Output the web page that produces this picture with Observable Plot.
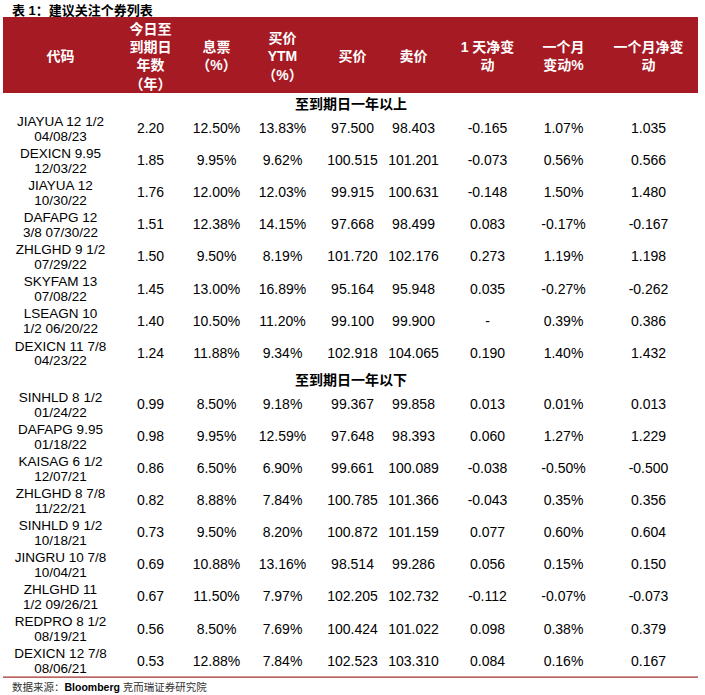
<!DOCTYPE html>
<html>
<head>
<meta charset="utf-8">
<script src="https://cdn.jsdelivr.net/npm/d3@7"></script>
<script src="https://cdn.jsdelivr.net/npm/@observablehq/plot@0.6"></script>
<style>
  html, body { margin: 0; padding: 0; background: #fff; }
  body { width: 705px; height: 695px; overflow: hidden; }
  #title { height: 17px; line-height: 17px; padding-left: 12px; font: bold 13px "Liberation Sans", "Noto Sans CJK SC", sans-serif; color: #000; white-space: nowrap; }
  #caption { height: 14px; line-height: 14px; padding-left: 12px; font: 10.5px "Liberation Sans", "Noto Sans CJK SC", sans-serif; color: #333; white-space: nowrap; }
  #caption b { color: #000; }
</style>
</head>
<body>
<div id="title">表 1：建议关注个券列表</div>
<div id="chart"></div>
<div id="caption">数据来源：<b>Bloomberg</b> 克而瑞证券研究院</div>
<script>
// ---- data ----
const headerLabels = ["代码", "今日至\n到期日\n年数\n（年）", "息票\n（%）", "买价\nYTM\n（%）", "买价", "卖价", "1 天净变\n动", "一个月\n变动%", "一个月净变\n动"];
const sectionLabels = ["至到期日一年以上", "至到期日一年以下"];
const codes = ["JIAYUA 12 1/2\n04/08/23", "DEXICN 9.95\n12/03/22", "JIAYUA 12\n10/30/22", "DAFAPG 12\n3/8 07/30/22", "ZHLGHD 9 1/2\n07/29/22", "SKYFAM 13\n07/08/22", "LSEAGN 10\n1/2 06/20/22", "DEXICN 11 7/8\n04/23/22", "SINHLD 8 1/2\n01/24/22", "DAFAPG 9.95\n01/18/22", "KAISAG 6 1/2\n12/07/21", "ZHLGHD 8 7/8\n11/22/21", "SINHLD 9 1/2\n10/18/21", "JINGRU 10 7/8\n10/04/21", "ZHLGHD 11\n1/2 09/26/21", "REDPRO 8 1/2\n08/19/21", "DEXICN 12 7/8\n08/06/21"];
const years = [2.20, 1.85, 1.76, 1.51, 1.50, 1.45, 1.40, 1.24, 0.99, 0.98, 0.86, 0.82, 0.73, 0.69, 0.67, 0.56, 0.53];
const coupon = [12.50, 9.95, 12.00, 12.38, 9.50, 13.00, 10.50, 11.88, 8.50, 9.95, 6.50, 8.88, 9.50, 10.88, 11.50, 8.50, 12.88];
const ytm = [13.83, 9.62, 12.03, 14.15, 8.19, 16.89, 11.20, 9.34, 9.18, 12.59, 6.90, 7.84, 8.20, 13.16, 7.97, 7.69, 7.84];
const bid = [97.500, 100.515, 99.915, 97.668, 101.720, 95.164, 99.100, 102.918, 99.367, 97.648, 99.661, 100.785, 100.872, 98.514, 102.205, 100.424, 102.523];
const ask = [98.403, 101.201, 100.631, 98.499, 102.176, 95.948, 99.900, 104.065, 99.858, 98.393, 100.089, 101.366, 101.159, 99.286, 102.732, 101.022, 103.310];
const chg1d = [-0.165, -0.073, -0.148, 0.083, 0.273, 0.035, null, 0.190, 0.013, 0.060, -0.038, -0.043, 0.077, 0.056, -0.112, 0.098, 0.084];
const chg1mPct = [1.07, 0.56, 1.50, -0.17, 1.19, -0.27, 0.39, 1.40, 0.01, 1.27, -0.50, 0.35, 0.60, 0.15, -0.07, 0.38, 0.16];
const chg1m = [1.035, 0.566, 1.480, -0.167, 1.198, -0.262, 0.386, 1.432, 0.013, 1.229, -0.500, 0.356, 0.604, 0.150, -0.073, 0.379, 0.167];

// ---- layout / style ----
const W = 705, H = 662;
const layout = { left: 3, right: 698, headerH: 76, sectionH: 19, rowH: 32.1,
  colCenters: [60, 150, 216, 282, 352, 413, 487, 563, 648] };
const RED = "#A61A24";
const LATIN = "'Liberation Sans', Arial, 'Noto Sans CJK SC', sans-serif";

const f2 = d => d.toFixed(2);
const f3 = d => d == null ? "-" : d.toFixed(3);
const pct = d => d.toFixed(2) + "%";
const numCols = [
  { values: years, fmt: f2 },
  { values: coupon, fmt: pct },
  { values: ytm, fmt: pct },
  { values: bid, fmt: f3 },
  { values: ask, fmt: f3 },
  { values: chg1d, fmt: f3 },
  { values: chg1mPct, fmt: pct },
  { values: chg1m, fmt: f3 }
];

// row positions (computed)
const rows = [];
const sections = [];
let yPos = layout.headerH, prev = null;
codes.forEach((c, i) => {
  const s = years[i] >= 1 ? 0 : 1;
  if (s !== prev) {
    sections.push({ label: sectionLabels[s], y: yPos + layout.sectionH / 2 });
    yPos += layout.sectionH;
    prev = s;
  }
  rows.push({ i, code: c, y: yPos + layout.rowH / 2 });
  yPos += layout.rowH;
});
const bottomY = yPos;

const cells = rows.flatMap(r => numCols.map((col, j) => ({
  x: layout.colCenters[j + 1], y: r.y, text: col.fmt(col.values[r.i])
})));
const headers = headerLabels.map((t, j) => ({ x: layout.colCenters[j], y: layout.headerH / 2, text: t }));

const chart = Plot.plot({
  width: W, height: H, margin: 0,
  x: { domain: [0, W], range: [0, W], axis: null },
  y: { domain: [0, H], range: [0, H], axis: null },
  style: { fontFamily: LATIN, background: "white" },
  marks: [
    Plot.rect([0], { x1: layout.left, x2: layout.right, y1: 0, y2: layout.headerH, fill: RED }),
    Plot.text(headers, { x: "x", y: "y", text: "text", fill: "white", fontWeight: "bold", fontSize: 14, lineHeight: 1.3, fontFamily: LATIN }),
    Plot.text(sections, { x: (layout.left + layout.right) / 2, y: "y", text: "label", fill: "#000", fontWeight: "bold", fontSize: 14, dy: 1.5, fontFamily: LATIN }),
    Plot.text(rows, { x: layout.colCenters[0], y: "y", text: "code", fill: "#000", fontSize: 13.5, lineHeight: 1.1, fontFamily: LATIN }),
    Plot.text(cells, { x: "x", y: "y", text: "text", fill: "#000", fontSize: 14, fontFamily: LATIN }),
    Plot.ruleY([bottomY], { x1: layout.left, x2: layout.right, stroke: "#A0302A", strokeWidth: 1.2 })
  ]
});
document.getElementById("chart").appendChild(chart);
</script>
</body>
</html>
